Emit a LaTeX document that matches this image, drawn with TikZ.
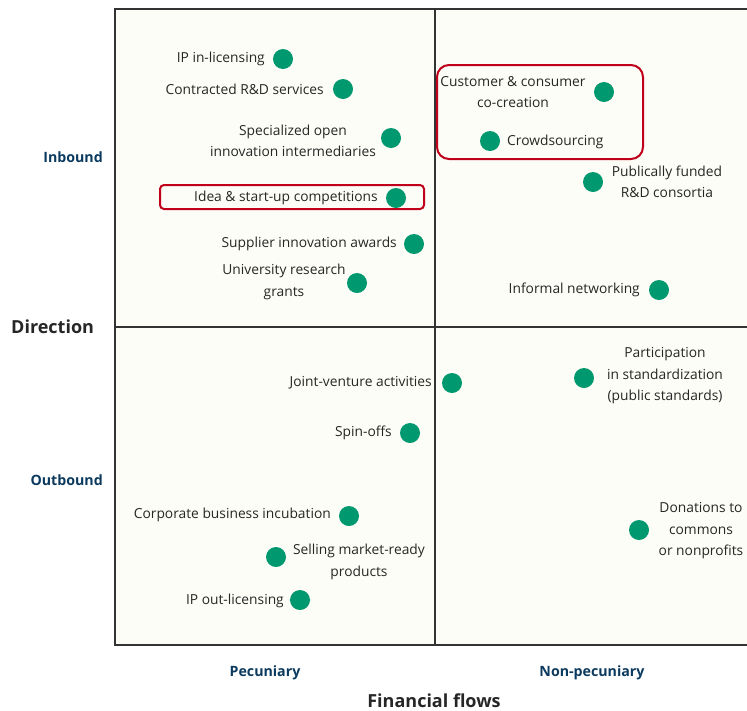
\documentclass[tikz,border=0pt]{standalone}
\usepackage{fontspec}
\setmainfont{Open Sans}
\definecolor{teal1}{HTML}{00996F}
\definecolor{navy1}{HTML}{0B3A5E}
\definecolor{red1}{HTML}{C0001A}
\definecolor{cream}{HTML}{FDFDF7}
\definecolor{frame1}{HTML}{333333}
\definecolor{txt}{HTML}{262626}
\tikzset{
  dot/.style={circle, fill=teal1, minimum size=20pt, inner sep=0pt},
  lbl/.style={font=\fontsize{13.8}{21.5}\selectfont, text=txt, inner sep=0pt, align=center},
  axl/.style={font=\fontsize{14.2}{17}\selectfont\bfseries, text=navy1, inner sep=0pt},
  ttl/.style={font=\fontsize{18}{21}\selectfont\bfseries, text=txt, inner sep=0pt},
  hl/.style={draw=red1, line width=2pt, rounded corners=#1},
  frm/.style={draw=frame1, line width=2pt}
}
\begin{document}
\begin{tikzpicture}[x=1pt,y=-1pt]
\useasboundingbox (0,0) rectangle (747,710);
\fill[cream] (115,9) rectangle (747,645);
\coordinate (tl) at (115,9);
\coordinate (tr) at (747,9);
\coordinate (bl) at (115,645);
\coordinate (br) at (747,645);
\coordinate (mt) at (435,9);
\coordinate (mb) at (435,645);
\coordinate (ml) at (115,327);
\coordinate (mr) at (747,327);
\draw[frm] (tr) -- (tl) -- (bl) -- (br);
\draw[frm] (mt) -- (mb);
\draw[frm] (ml) -- (mr);

% highlight boxes
\draw[hl=4pt] (160,185) rectangle (424,209);
\draw[hl=12pt] (437,65) rectangle (643,159);

% inbound pecuniary
\node[dot] (d1) at (283,59) {};
\node[lbl, anchor=east] (t1) at (265,59) {IP in-licensing};
\node[dot] (d2) at (343,89) {};
\node[lbl, anchor=east] (t2) at (324,89) {Contracted R\&D services};
\node[dot] (d3) at (391,138) {};
\node[lbl] (t3) at (293,141) {Specialized open\\innovation intermediaries};
\node[dot] (d4) at (396,198) {};
\node[lbl, anchor=east] (t4) at (378,198) {Idea \& start-up competitions};
\node[dot] (d5) at (414,244) {};
\node[lbl, anchor=east] (t5) at (397,244) {Supplier innovation awards};
\node[dot] (d6) at (357,283) {};
\node[lbl] (t6) at (284,282) {University research\\grants};

% inbound non-pecuniary
\node[dot] (d7) at (604,92) {};
\node[lbl] (t7) at (513,92) {Customer \& consumer\\co-creation};
\node[dot] (d8) at (490,141) {};
\node[lbl, anchor=west] (t8) at (507,142) {Crowdsourcing};
\node[dot] (d9) at (593,182) {};
\node[lbl] (t9) at (667,182) {Publically funded\\R\&D consortia};
\node[dot] (d10) at (659,290) {};
\node[lbl, anchor=east] (t10) at (640,290) {Informal networking};

% outbound pecuniary
\node[dot] (d11) at (452,383) {};
\node[lbl, anchor=east] (t11) at (432,383) {Joint-venture activities};
\node[dot] (d12) at (410,433) {};
\node[lbl, anchor=east] (t12) at (392,433) {Spin-offs};
\node[dot] (d13) at (349,516) {};
\node[lbl, anchor=east] (t13) at (331,515) {Corporate business incubation};
\node[dot] (d14) at (276,557) {};
\node[lbl] (t14) at (359,562) {Selling market-ready\\products};
\node[dot] (d15) at (300,600) {};
\node[lbl, anchor=east] (t15) at (284,601) {IP out-licensing};

% outbound non-pecuniary
\node[dot] (d16) at (584,378) {};
\node[lbl] (t16) at (665,376) {Participation\\in standardization\\(public standards)};
\node[dot] (d17) at (639,530) {};
\node[lbl] (t17) at (701,531) {Donations to\\commons\\or nonprofits};

% axis labels
\node[axl, anchor=east] (ib) at (103,157) {Inbound};
\node[axl, anchor=east] (ob) at (103,480) {Outbound};
\node[ttl, anchor=west] (dir) at (11,327) {Direction};
\node[axl] (pec) at (265,673) {Pecuniary};
\node[axl] (npec) at (592,673) {Non-pecuniary};
\node[ttl] (ff) at (434,701) {Financial flows};
\end{tikzpicture}
\end{document}
